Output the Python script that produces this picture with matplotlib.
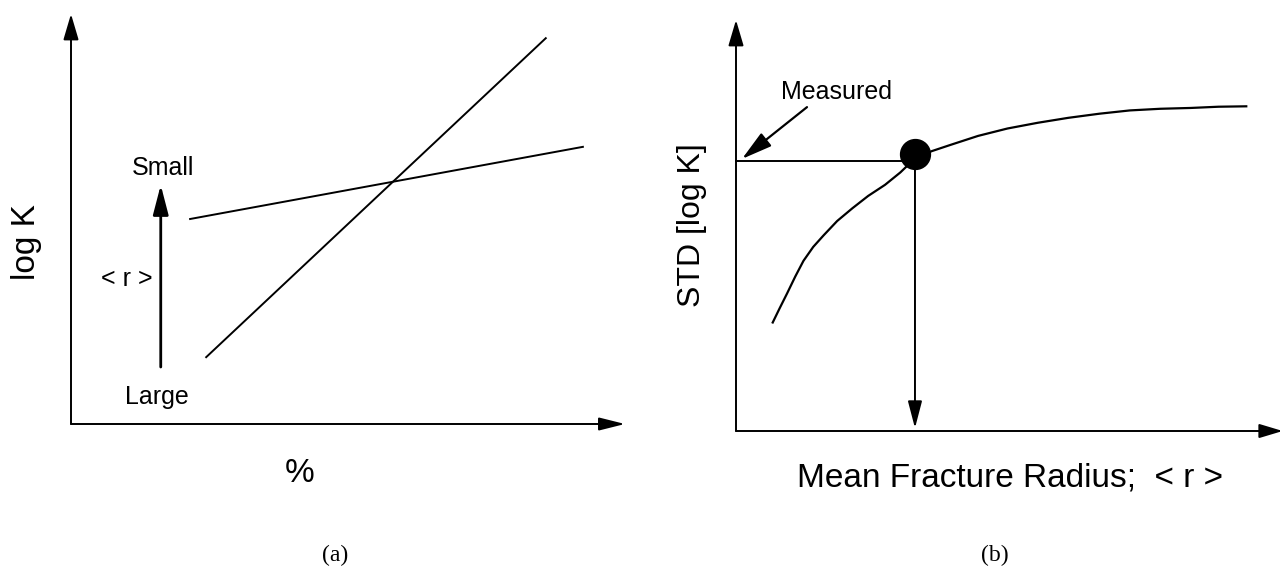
import matplotlib
matplotlib.use("Agg")
import matplotlib.pyplot as plt

W, H = 1280, 567

# Panel (a): log K versus percentage for two fracture-size populations
a_steep_x = [24.4, 85.7]
a_steep_y = [16.3, 94.1]
a_shallow_x = [21.5, 92.4]
a_shallow_y = [50.0, 67.6]
a_r_arrow_x = 16.2
a_r_arrow_y = [13.9, 58.3]

# Panel (b): STD[log K] versus mean fracture radius
b_radius = [6.75, 8.0, 9.4, 10.9, 12.4, 14.2, 16.1, 18.6, 21.4, 24.3, 27.4, 30.2,
            32.8, 36.0, 39.4, 44.5, 49.9, 55.5, 61.1, 66.8, 72.4, 78.0, 83.6, 88.7, 93.8]
b_std = [26.4, 29.8, 33.5, 37.6, 41.4, 44.8, 47.6, 51.1, 54.2, 57.2, 59.9, 62.9,
         66.2, 68.1, 69.6, 71.8, 73.6, 75.0, 76.2, 77.2, 78.0, 78.4, 78.6, 78.9, 79.0]
measured_std = 65.7
picked_radius = 32.9
picked_std = 67.4
measured_arrow_start = (13.05, 78.8)

SANS = "Liberation Sans"
SERIF = "Liberation Serif"

fig = plt.figure(figsize=(W / 100, H / 100), dpi=100)


def px_axes(left, top, right, bottom):
    """Create an axes spanning a pixel box, with 0..100 data units each way."""
    ax = fig.add_axes([left / W, 1 - bottom / H, (right - left) / W, (bottom - top) / H])
    ax.set_xlim(0, 100)
    ax.set_ylim(0, 100)
    ax.axis("off")
    return ax


def arrow(ax, start, end, hl_px, hw_px, lw, coords="data"):
    ax.annotate(
        "", xy=end, xytext=start, xycoords=coords, textcoords=coords,
        annotation_clip=False,
        arrowprops=dict(
            arrowstyle=f"-|>,head_length={hl_px * 0.072:.3f},head_width={hw_px * 0.072:.3f}",
            mutation_scale=10, lw=lw, color="black", fc="black",
            shrinkA=0, shrinkB=0,
        ),
    )


def ftext(x, y, s, **kw):
    fig.text(x / W, 1 - y / H, s, ha="center", va="center", **kw)


# ---------- panel (a) ----------
ax_a = px_axes(71, 14, 625, 424)
arrow(ax_a, (0, 0), (0, 100), 22, 6.5, 1.4)
arrow(ax_a, (0, 0), (100, 0), 22, 5.5, 1.4)
ax_a.plot(a_steep_x, a_steep_y, color="black", lw=1.4, clip_on=False)
ax_a.plot(a_shallow_x, a_shallow_y, color="black", lw=1.4, clip_on=False)
arrow(ax_a, (a_r_arrow_x, a_r_arrow_y[0]), (a_r_arrow_x, a_r_arrow_y[1]), 25, 6.5, 2.0)
ax_a.text(16.6, 62.4, "Small", ha="center", va="center", fontsize=18, family=SANS)
ax_a.text(15.5, 6.6, "Large", ha="center", va="center", fontsize=18, family=SANS)
ax_a.text(10.1, 35.4, "< r >", ha="center", va="center", fontsize=18, family=SANS)

ftext(27, 242, "log K", rotation=90, fontsize=24, family=SANS)
ftext(300, 473, "%", fontsize=24, family=SANS)
ftext(335, 555, "(a)", fontsize=17, family=SERIF)

# ---------- panel (b) ----------
ax_b = px_axes(736, 20, 1280, 431)
arrow(ax_b, (0, 0), (0, 100), 22, 6.5, 1.4)
arrow(ax_b, (0, 0), (100.5, 0), 20, 6, 1.4)
ax_b.plot(b_radius, b_std, color="black", lw=1.6, clip_on=False)
ax_b.plot([0, picked_radius], [measured_std, measured_std], color="black", lw=1.4, clip_on=False)
arrow(ax_b, (picked_radius, picked_std), (picked_radius, 0.7), 23, 6, 1.4)
ax_b.plot([picked_radius], [picked_std], "o", color="black", ms=21.5, clip_on=False, zorder=5)
arrow(ax_b, measured_arrow_start, (1.1, measured_std + 0.5), 26, 7, 1.6)
ax_b.text(18.4, 82.6, "Measured", ha="center", va="center", fontsize=18, family=SANS)

ftext(692, 225, "STD [log K]", rotation=90, fontsize=23, family=SANS)
ftext(1010, 478, "Mean Fracture Radius;  < r >", fontsize=24, family=SANS)
ftext(995, 555, "(b)", fontsize=17, family=SERIF)

fig.savefig("out.png", dpi=100, facecolor="white")
